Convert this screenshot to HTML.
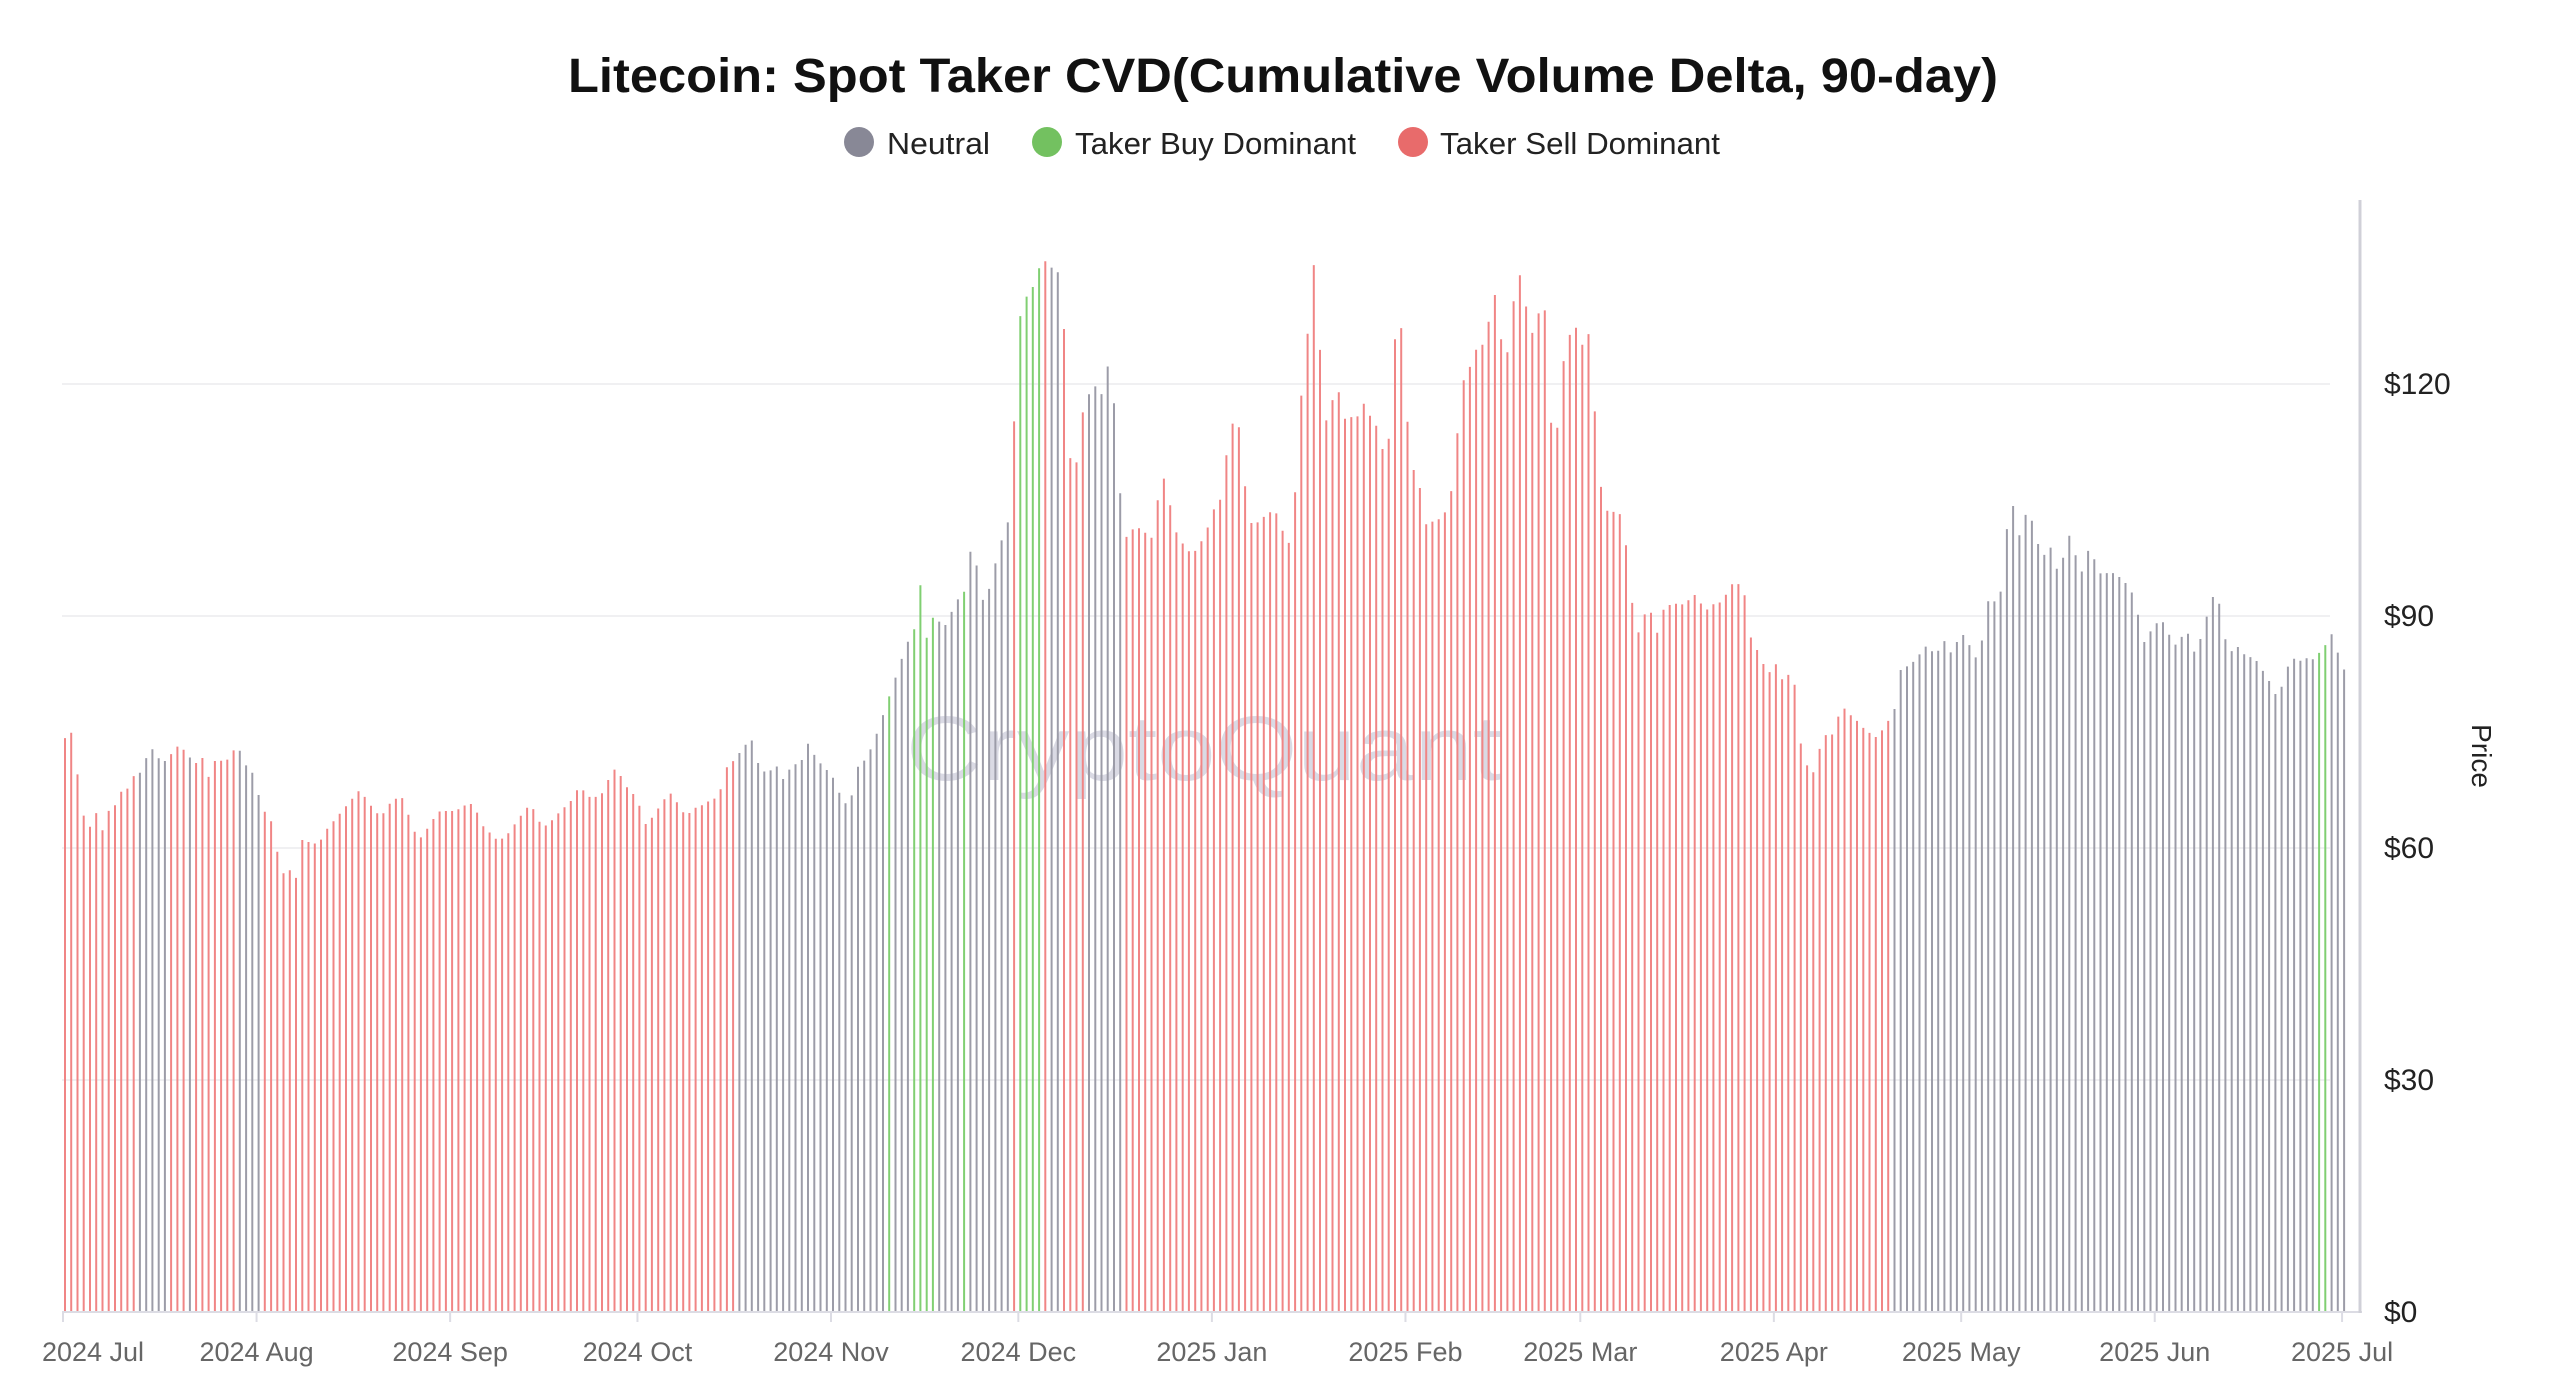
<!DOCTYPE html>
<html><head><meta charset="utf-8">
<style>
html,body{margin:0;padding:0;background:#fff;}
svg{display:block;}
text{font-family:"Liberation Sans",sans-serif;}
</style></head>
<body>
<svg id="c" width="2560" height="1380" viewBox="0 0 2560 1380" xmlns="http://www.w3.org/2000/svg">
<rect width="2560" height="1380" fill="#fff"/>
<text x="1283" y="92" text-anchor="middle" font-size="48" font-weight="bold" fill="#111" textLength="1430" lengthAdjust="spacingAndGlyphs">Litecoin: Spot Taker CVD(Cumulative Volume Delta, 90-day)</text>
<circle cx="859" cy="142" r="15" fill="#888896"/>
<text x="887" y="154" font-size="31" fill="#222" textLength="103" lengthAdjust="spacingAndGlyphs">Neutral</text>
<circle cx="1047" cy="142" r="15" fill="#73c160"/>
<text x="1075" y="154" font-size="31" fill="#222" textLength="281" lengthAdjust="spacingAndGlyphs">Taker Buy Dominant</text>
<circle cx="1413" cy="142" r="15" fill="#e86b6b"/>
<text x="1440" y="154" font-size="31" fill="#222" textLength="280" lengthAdjust="spacingAndGlyphs">Taker Sell Dominant</text>
<g stroke="#f0f0f2" stroke-width="2">
<line x1="62" y1="384" x2="2330" y2="384"/>
<line x1="62" y1="616" x2="2330" y2="616"/>
<line x1="62" y1="848" x2="2330" y2="848"/>
<line x1="62" y1="1080" x2="2330" y2="1080"/>
</g>
<text x="906" y="780" font-size="92" fill="#d4d4e0" opacity="0.85" textLength="596" lengthAdjust="spacingAndGlyphs">CryptoQuant</text>
<g id="bars"></g>
<line x1="62" y1="1312" x2="2362" y2="1312" stroke="#dcdce4" stroke-width="2"/>
<line x1="2360" y1="200" x2="2360" y2="1313" stroke="#d0d0d8" stroke-width="3"/>
<g font-size="30" fill="#222">
<text x="2384" y="394">$120</text>
<text x="2384" y="626">$90</text>
<text x="2384" y="858">$60</text>
<text x="2384" y="1090">$30</text>
<text x="2384" y="1322">$0</text>
</g>
<text transform="translate(2472,756) rotate(90)" text-anchor="middle" font-size="28" fill="#222">Price</text>
<g id="xt" font-size="27" fill="#666" text-anchor="middle"></g>
</svg>
<script>
var kp=[40,452,43,445,46,463,50,494,54,511,58,494,62,511,66,497,70,494,74,485,78,483,82,475,86,473,90,463,94,458,98,466,102,466,108,457,111,458,115,461,119,470,123,460,127,478,131,466,135,466,140,465,145,456,148,462,152,472,156,474,160,496,164,498,168,508,172,538,176,530,181,540,184,514,190,516,195,517,200,508,205,502,210,496,215,490,220,484,225,490,230,498,235,498,240,490,246,488,252,504,256,515,260,510,265,502,270,496,275,497,280,496,285,493,290,492,295,505,300,510,305,515,310,512,315,505,320,498,325,492,330,503,335,506,340,500,345,495,350,490,355,481,360,488,365,488,370,485,375,470,380,475,385,484,390,488,395,505,400,500,405,492,410,485,415,492,420,500,425,495,430,493,435,490,440,488,445,470,450,465,455,458,460,452,465,470,470,474,475,468,480,478,485,468,490,468,495,455,500,465,505,470,510,476,515,488,520,495,525,470,530,465,535,455,540,440,545,425,550,410,555,395,560,385,563,352,567,392,572,376,576,382,580,383,585,368,590,365,595,333,598,346,602,368,606,360,610,343,615,325,618,318,622,238,626,175,630,185,634,170,638,160,642,160,646,168,650,165,655,280,659,285,664,245,668,240,672,235,676,245,680,210,685,295,690,330,695,322,700,325,705,330,710,300,714,290,718,320,722,330,726,335,730,340,735,333,740,322,744,310,748,305,752,270,756,255,760,265,764,318,768,322,772,318,776,315,780,312,784,318,788,338,792,320,796,250,800,215,804,155,808,210,812,258,816,245,820,240,824,258,828,255,832,255,836,245,840,258,844,262,848,282,852,260,855,190,858,200,862,260,866,290,870,300,874,325,878,318,882,318,886,312,890,295,895,235,898,230,902,220,906,208,910,215,914,170,918,200,922,225,926,190,930,165,934,185,938,205,942,192,946,190,950,262,954,262,958,215,962,203,966,200,970,215,974,200,978,280,982,310,986,315,990,312,994,318,998,355,1002,392,1006,378,1010,372,1015,388,1020,368,1024,372,1028,368,1032,372,1036,363,1040,366,1044,375,1048,370,1052,370,1056,366,1060,358,1064,357,1068,362,1072,390,1076,398,1080,407,1084,412,1088,406,1092,418,1096,412,1100,422,1104,470,1108,468,1112,476,1116,445,1120,455,1124,444,1128,432,1132,437,1136,440,1140,445,1144,448,1148,452,1152,448,1156,442,1160,435,1164,410,1168,408,1172,405,1176,400,1180,395,1184,400,1188,398,1192,390,1196,405,1200,385,1204,392,1208,398,1212,408,1216,370,1220,365,1224,375,1228,330,1232,305,1236,330,1240,315,1244,318,1248,333,1252,340,1256,335,1260,350,1264,340,1268,325,1272,345,1276,352,1280,330,1284,350,1288,352,1292,350,1296,352,1300,355,1304,360,1308,368,1312,395,1316,388,1320,382,1324,380,1328,388,1332,395,1336,390,1340,388,1344,400,1348,390,1352,375,1356,363,1360,372,1364,400,1368,398,1372,395,1376,405,1380,400,1384,410,1388,412,1392,425,1396,425,1400,410,1404,403,1408,405,1412,403,1416,404,1420,400,1424,395,1428,388,1431,397,1434,410];
var S=1.633;
function interp(x){
 for(var i=0;i<kp.length-2;i+=2){
  if(x<=kp[i+2]){var t=(x-kp[i])/(kp[i+2]-kp[i]);if(t<0)t=0;return kp[i+1]+t*(kp[i+3]-kp[i+1]);}
 }
 return kp[kp.length-1];
}
var G='#9c9ca8',R='#f08585',N='#80cf72';
var ranges=[[84,104,G],[113,117,G],[144,162,G],[452,542,G],[543,547,N],[548,558,G],[559,573,N],[574,590,G],[590,593,N],[594,620,G],[621,640,N],[641,648,G],[649,664,R],[665,667,G],[668,669,R],[670,687,G],[1157,1419,G],[1420,1426,N],[1427,1440,G]];
function col(x){for(var i=0;i<ranges.length;i++){if(x>=ranges[i][0]&&x<=ranges[i][1])return ranges[i][2];}return R;}
var out='';
for(var d=0;d<=365;d++){
 var ax=65+6.244*d;var dx=ax/S;
 var y=interp(dx)*S;
 out+='<line x1="'+ax.toFixed(1)+'" y1="'+y.toFixed(1)+'" x2="'+ax.toFixed(1)+'" y2="1312" stroke="'+col(dx)+'" stroke-width="2"/>';
}
document.getElementById('bars').innerHTML=out;
var labs=[['2024 Jul',0],['2024 Aug',31],['2024 Sep',62],['2024 Oct',92],['2024 Nov',123],['2024 Dec',153],['2025 Jan',184],['2025 Feb',215],['2025 Mar',243],['2025 Apr',274],['2025 May',304],['2025 Jun',335],['2025 Jul',365]];
var t='';
labs.forEach(function(l){var x=63+6.244*l[1];var tx=x;if(l[1]==0)tx=x+30;
 t+='<line x1="'+x+'" y1="1312" x2="'+x+'" y2="1322" stroke="#dcdce4" stroke-width="2"/>';
 t+='<text x="'+tx+'" y="1361">'+l[0]+'</text>';});
document.getElementById('xt').innerHTML=t;
</script>
</body></html>
